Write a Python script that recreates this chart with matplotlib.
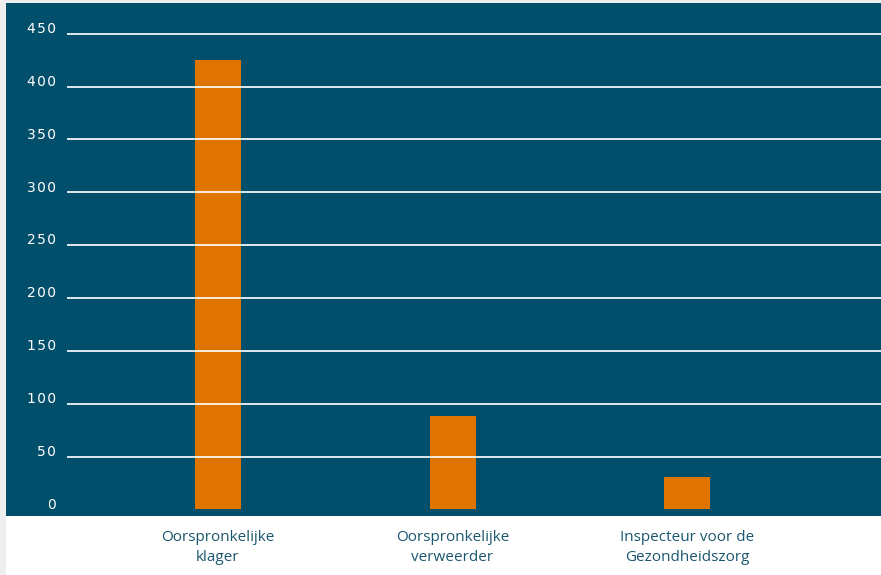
import matplotlib.pyplot as plt
import matplotlib.transforms as mtransforms
from matplotlib.patches import Rectangle

# aantallen per partij
categories = ['Oorspronkelijke\nklager', 'Oorspronkelijke\nverweerder',
              'Inspecteur voor de\nGezondheidszorg']
values = [425, 88, 31]
yticks = [0, 50, 100, 150, 200, 250, 300, 350, 400, 450]

panel = '#024f6b'
orange = '#e07400'
label_col = '#1a566e'

W, H = 881, 575
fig = plt.figure(figsize=(W / 100, H / 100), dpi=100)
fig.patch.set_facecolor('white')

# grijze randen en donkere achtergrond
fig.patches.append(Rectangle((0, 0), 6 / W, 1, transform=fig.transFigure,
                             facecolor='#eeeeee', edgecolor='none', zorder=-5))
fig.patches.append(Rectangle((0, 1 - 3 / H), 1, 3 / H, transform=fig.transFigure,
                             facecolor='#eeeeee', edgecolor='none', zorder=-5))
fig.patches.append(Rectangle((6 / W, (H - 516) / H), 1 - 6 / W, (516 - 3) / H,
                             transform=fig.transFigure, facecolor=panel,
                             edgecolor='none', zorder=-5))

y0 = 509.4
unit = 52.85 / 50
ax = fig.add_axes([67 / W, (H - y0) / H, 1 - 67 / W, (y0 - 3) / H])
ax.patch.set_alpha(0)

x = range(len(categories))
ax.bar(x, values, width=0.196, color=orange, zorder=1)

ax.set_xlim(-0.644, 2.827)
ax.set_ylim(0, (y0 - 3) / unit)
ax.set_yticks(yticks)
# cijfers iets uit elkaar, zoals in de huisstijl
ax.set_yticklabels(['\u200a'.join(str(t)) for t in yticks])
ax.set_xticks(list(x))
ax.set_xticklabels(categories, fontsize=11, color=label_col,
                   family=['Open Sans', 'DejaVu Sans'], linespacing=1.45)
ax.tick_params(axis='x', length=0, pad=15)
ax.tick_params(axis='y', length=0, pad=8, labelcolor='white', labelsize=10)

offset = mtransforms.ScaledTranslation(0, 4.5 / 72, fig.dpi_scale_trans)
for lab in ax.get_yticklabels():
    lab.set_transform(lab.get_transform() + offset)

ax.grid(axis='y', color='white', linewidth=1.3, alpha=0.95, zorder=2)
ax.set_axisbelow(False)
ax.get_ygridlines()[0].set_visible(False)

for s in ax.spines.values():
    s.set_visible(False)

fig.savefig('out.png', dpi=100)
